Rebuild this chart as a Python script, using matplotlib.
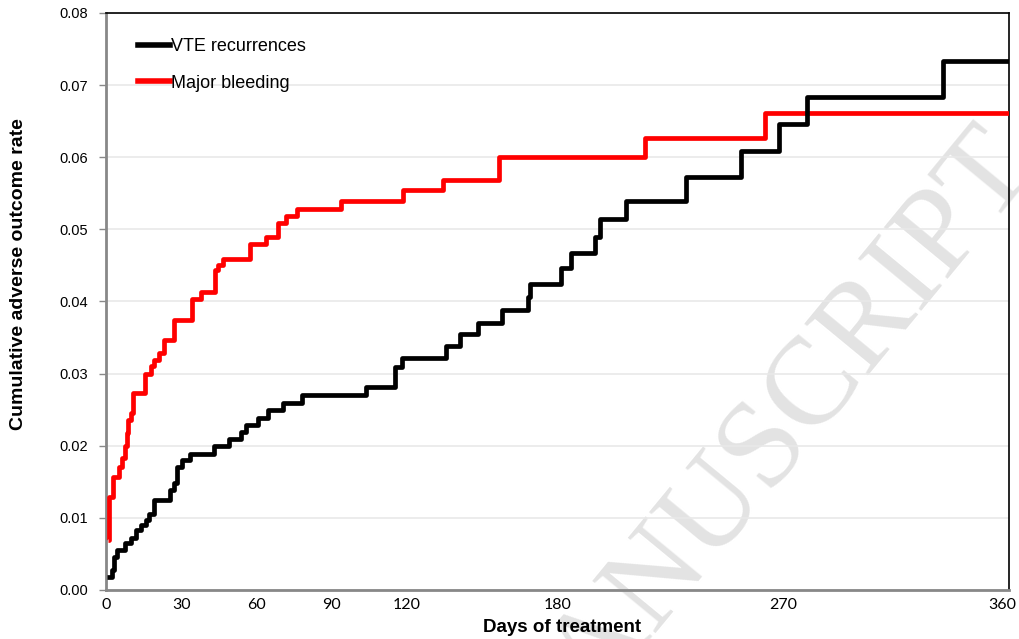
import matplotlib
matplotlib.use('Agg')
import matplotlib.pyplot as plt
import matplotlib.transforms as mtransforms
from matplotlib.lines import Line2D

# step data (day, cumulative rate)
vte_days = [0.5, 2.5, 3.2, 4.2, 7.5, 10.0, 12.0, 14.0, 15.8, 17.2, 19.0, 25.5, 27.0,
            28.3, 30.5, 33.5, 43.0, 49.0, 54.0, 56.0, 60.5, 64.5, 70.5, 78.0, 103.5,
            115.3, 118.0, 135.5, 141.0, 148.5, 158.0, 168.2, 169.2, 181.5, 185.5,
            194.8, 197.0, 207.4, 231.3, 253.3, 268.5, 279.4, 333.7, 360.0]
vte_rate = [0.0018, 0.0028, 0.0046, 0.0055, 0.0065, 0.0072, 0.0083, 0.0090, 0.0097,
            0.0106, 0.0125, 0.0139, 0.0148, 0.0171, 0.0180, 0.0189, 0.0199, 0.0210,
            0.0219, 0.0229, 0.0239, 0.0249, 0.0259, 0.0270, 0.0282, 0.0309, 0.0322,
            0.0338, 0.0355, 0.0370, 0.0388, 0.0406, 0.0424, 0.0446, 0.0467, 0.0489,
            0.0515, 0.0540, 0.0572, 0.0608, 0.0646, 0.0684, 0.0733, 0.0733]

bleed_days = [1.0, 1.4, 2.9, 5.0, 6.3, 7.5, 8.3, 8.9, 10.0, 10.7, 15.6, 18.0, 19.3,
              21.3, 23.3, 27.3, 34.4, 38.0, 43.3, 44.8, 46.6, 57.5, 63.9, 68.5, 71.8,
              76.0, 93.5, 118.6, 134.3, 156.5, 214.7, 262.6, 360.0]
bleed_rate = [0.0069, 0.0129, 0.0157, 0.0170, 0.0183, 0.0200, 0.0217, 0.0235, 0.0245,
              0.0273, 0.0300, 0.0310, 0.0319, 0.0328, 0.0346, 0.0375, 0.0404, 0.0413,
              0.0443, 0.0450, 0.0459, 0.0480, 0.0489, 0.0509, 0.0519, 0.0528, 0.0540,
              0.0554, 0.0568, 0.0601, 0.0627, 0.0662, 0.0662]

x_ticks = [0, 30, 60, 90, 120, 180, 270, 360]
y_ticks = [0.00, 0.01, 0.02, 0.03, 0.04, 0.05, 0.06, 0.07, 0.08]

fig = plt.figure(figsize=(10.2, 6.39), dpi=100)
ax = fig.add_axes([0.1039, 0.0767, 0.8853, 0.903])

# watermark, drawn underneath the axes
fig.text(0.995, 0.765, 'ACCEPTED MANUSCRIPT', rotation=50.5, rotation_mode='anchor',
         ha='right', va='center', fontsize=90, family='Liberation Serif',
         color='#e3e3e3', zorder=-1)
ax.patch.set_alpha(0)

ax.plot(bleed_days, bleed_rate, drawstyle='steps-post', color='#ff0000', lw=3.4,
        solid_capstyle='butt', zorder=3)
ax.plot(vte_days, vte_rate, drawstyle='steps-post', color='black', lw=3.4,
        solid_capstyle='butt', zorder=4)

ax.set_xlim(0, 360)
ax.set_ylim(0, 0.08)
ax.set_xticks(x_ticks)
ax.set_xticklabels([str(t) for t in x_ticks], family='Lato', fontsize=11.5)
ax.set_yticks(y_ticks)
ax.set_yticklabels(['%.2f' % t for t in y_ticks], family='Liberation Sans', fontsize=10.5)
ax.tick_params(axis='x', length=0, pad=6)
ax.tick_params(axis='y', length=5, width=1, color='#888888', pad=8)
ax.yaxis.grid(True, color='#e9e9e9', lw=1.2)
ax.set_axisbelow(True)

# last label sits a little inside the figure edge
last = ax.get_xticklabels()[-1]
last.set_transform(last.get_transform() +
                   mtransforms.ScaledTranslation(-7 / 100, 0, fig.dpi_scale_trans))

for s in ['left', 'bottom']:
    ax.spines[s].set_color('#888888')
    ax.spines[s].set_linewidth(2)
for s in ['top', 'right']:
    ax.spines[s].set_color('black')
    ax.spines[s].set_linewidth(1.2)

ax.set_xlabel('Days of treatment', family='Liberation Sans', fontweight='bold',
              fontsize=13.5)
ax.set_ylabel('Cumulative adverse outcome rate', family='Liberation Sans',
              fontweight='bold', fontsize=14)
ax.xaxis.set_label_coords(0.505, -0.051)
ax.yaxis.set_label_coords(-0.087, 0.547)

handles = [Line2D([], [], color='black', lw=4),
           Line2D([], [], color='#ff0000', lw=4)]
ax.legend(handles, ['VTE recurrences', 'Major bleeding'], loc='upper left',
          bbox_to_anchor=(0.017, 0.985), frameon=False, handlelength=1.8,
          handletextpad=0.05, labelspacing=1.1,
          prop={'family': 'Liberation Sans', 'size': 13})

fig.savefig('out.png', dpi=100)
